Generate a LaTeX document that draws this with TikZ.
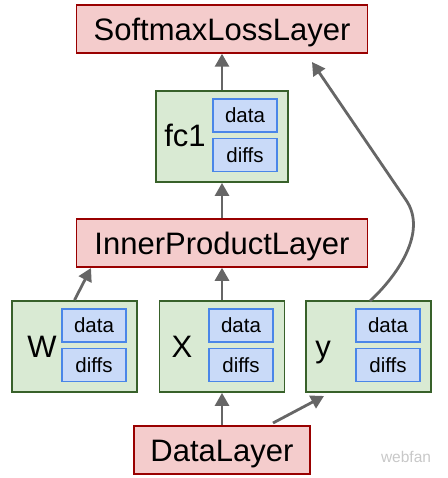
\documentclass[tikz,border=0pt]{standalone}
\usepackage{fontspec}
\setmainfont{Liberation Sans}
\usetikzlibrary{arrows.meta}
\definecolor{redfill}{HTML}{F4CCCC}
\definecolor{redline}{HTML}{990000}
\definecolor{greenfill}{HTML}{D9EAD3}
\definecolor{greenline}{HTML}{38612A}
\definecolor{bluefill}{HTML}{C9DAF8}
\definecolor{blueline}{HTML}{4A86E8}
\definecolor{arrowgray}{HTML}{666666}
\definecolor{wmgray}{HTML}{C8C8C8}
\begin{document}
\begin{tikzpicture}[x=1pt,y=-1pt,
  layerbox/.style={draw=redline, fill=redfill, line width=1.5pt, inner sep=0pt,
    minimum height=48pt, text height=22.3pt, text depth=0pt,
    font=\fontsize{31}{37}\selectfont},
  blobbox/.style={draw=greenline, fill=greenfill, line width=1.8pt, inner sep=0pt,
    minimum width=125pt, minimum height=91pt},
  fieldbox/.style={draw=blueline, fill=bluefill, line width=1.5pt, inner sep=0pt,
    minimum width=64pt, minimum height=33pt, text height=14.8pt, text depth=0pt,
    font=\fontsize{20.5}{24}\selectfont},
  bloblabel/.style={anchor=base, inner sep=0pt, font=\fontsize{31}{37}\selectfont},
  flow/.style={draw=arrowgray, line width=2.8pt,
    -{Triangle[length=13pt,width=14pt]}}
]
\useasboundingbox (0,0) rectangle (447,478);

% layers
\node[layerbox, minimum width=291pt] (sml) at (222,29) {SoftmaxLossLayer};
\node[layerbox, minimum width=291pt] (ipl) at (222,243) {InnerProductLayer};
\node[layerbox, minimum width=176pt] (dl) at (222,450) {DataLayer};

% fc1 blob
\node[blobbox, minimum width=132pt] (fc1) at (222,136.5) {};
\node[fieldbox] (fc1d) at (245,115.5) {data};
\node[fieldbox] (fc1f) at (245,155) {diffs};
\node[bloblabel] (fc1l) at (185,147) {fc1};

% W blob
\node[blobbox] (W) at (74.5,346.5) {};
\node[fieldbox] (Wd) at (94,325.5) {data};
\node[fieldbox] (Wf) at (94,365) {diffs};
\node[bloblabel] (Wl) at (42,357) {W};

% X blob
\node[blobbox] (X) at (222,346.5) {};
\node[fieldbox] (Xd) at (241,325.5) {data};
\node[fieldbox] (Xf) at (241,365) {diffs};
\node[bloblabel] (Xl) at (182,357) {X};

% y blob
\node[blobbox] (Y) at (368.5,346.5) {};
\node[fieldbox] (Yd) at (388,325.5) {data};
\node[fieldbox] (Yf) at (388,365) {diffs};
\node[bloblabel] (Yl) at (323,357) {y};

% free ends of connectors
\coordinate (wtip) at (91,268);
\coordinate (ystart) at (370,301);
\coordinate (ybend) at (406,200);
\coordinate (ytip) at (312,62);
\coordinate (dlstart) at (273,423);
\coordinate (dltip) at (324,396);

% connectors
\draw[flow] (fc1.north) -- (sml.south);
\draw[flow] (ipl.north) -- (fc1.south);
\draw[flow] (X.north) -- (ipl.south);
\draw[flow] (W.north) -- (wtip);
\draw[flow] (dl.north) -- (X.south);
\draw[flow] (dlstart) -- (dltip);
\draw[flow] (ystart) .. controls (397,276) and (428,232) .. (ybend) -- (ytip);

% watermark
\node[text=wmgray, inner sep=0pt, font=\fontsize{15.5}{18}\selectfont] (wm) at (406,457) {webfan};
\end{tikzpicture}
\end{document}
